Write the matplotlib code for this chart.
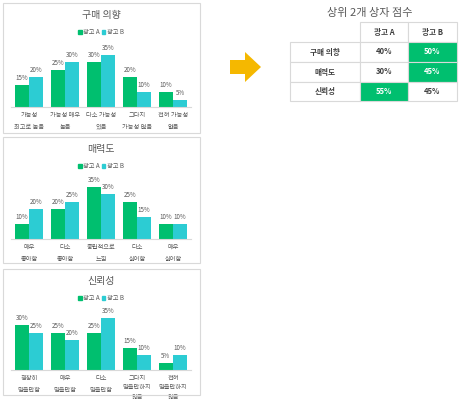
import matplotlib.pyplot as plt
from matplotlib.patches import Rectangle, Polygon, Patch

plt.rcParams["font.family"] = ["Noto Sans CJK KR", "DejaVu Sans"]

GREEN = "#00BF6F"
CYAN = "#2CCCD3"
TEXT = "#595959"
BORDER = "#D9D9D9"

series_names = ["광고 A", "광고 B"]

purchase_title = "구매 의향"
purchase_labels = ["가능성\n최고로 높음", "가능성 매우\n높음", "다소 가능성\n있음",
                   "그다지\n가능성 없음", "전혀 가능성\n없음"]
purchase_a = [15, 25, 30, 20, 10]
purchase_b = [20, 30, 35, 10, 5]

appeal_title = "매력도"
appeal_labels = ["매우\n좋아함", "다소\n좋아함", "중립적으로\n느낌", "다소\n싫어함", "매우\n싫어함"]
appeal_a = [10, 20, 35, 25, 10]
appeal_b = [20, 25, 30, 15, 10]

trust_title = "신뢰성"
trust_labels = ["굉장히\n믿을만함", "매우\n믿을만함", "다소\n믿을만함",
                "그다지\n믿을만하지\n않음", "전혀\n믿을만하지\n않음"]
trust_a = [30, 25, 25, 15, 5]
trust_b = [25, 20, 35, 10, 10]

table_title = "상위 2개 상자 점수"
table_rows = ["구매 의향", "매력도", "신뢰성"]
table_cols = ["광고 A", "광고 B"]
table_a = [40, 30, 55]
table_b = [50, 45, 45]

W, H = 460, 400
fig = plt.figure(figsize=(W / 100, H / 100), dpi=100)


def px_box(x0, y0, x1, y1):
    """Pixel box (y from top) -> figure fraction [left, bottom, width, height]."""
    return [x0 / W, 1 - y1 / H, (x1 - x0) / W, (y1 - y0) / H]


def bar_panel(top, bottom, base, title, labels, a_vals, b_vals):
    fig.patches.append(Rectangle((3 / W, 1 - bottom / H), 197 / W, (bottom - top) / H,
                                 transform=fig.transFigure, fill=False,
                                 edgecolor=BORDER, linewidth=0.8))
    fig.text(101 / W, 1 - (top + 12) / H, title, ha="center", va="center",
             fontsize=7.2, color=TEXT)
    scale = 1.5
    ax = fig.add_axes(px_box(11, base - 40 * scale, 191, base))
    x = range(len(labels))
    bw = 0.4
    ba = ax.bar([i - bw / 2 for i in x], a_vals, width=bw, color=GREEN)
    bb = ax.bar([i + bw / 2 for i in x], b_vals, width=bw, color=CYAN)
    for bars in (ba, bb):
        ax.bar_label(bars, fmt="%d%%", fontsize=4.5, color=TEXT, padding=2)
    ax.set_xlim(-0.5, len(labels) - 0.5)
    ax.set_ylim(0, 40)
    ax.set_xticks(list(x))
    ax.set_xticklabels(labels, fontsize=4.5, color=TEXT, va="top")
    for lbl in ax.get_xticklabels():
        lbl.set_linespacing(1.2 if lbl.get_text().count("\n") > 1 else 1.6)
    ax.tick_params(axis="x", length=0, pad=3)
    ax.set_yticks([])
    for side in ("top", "left", "right"):
        ax.spines[side].set_visible(False)
    ax.spines["bottom"].set_color(BORDER)
    ax.spines["bottom"].set_linewidth(0.8)
    ax.patch.set_alpha(0)
    handles = [Patch(color=GREEN), Patch(color=CYAN)]
    fig.legend(handles, series_names, loc="center",
               bbox_to_anchor=(101 / W, 1 - (top + 29) / H), ncol=2, frameon=False,
               fontsize=4.5, handlelength=0.6, handleheight=0.6, handletextpad=0.2,
               columnspacing=0.3, labelcolor=TEXT)


bar_panel(3, 133, 107, purchase_title, purchase_labels, purchase_a, purchase_b)
bar_panel(137, 263, 239, appeal_title, appeal_labels, appeal_a, appeal_b)
bar_panel(269, 395, 370, trust_title, trust_labels, trust_a, trust_b)

# arrow
arrow_px = [(230, 60), (245, 60), (245, 52), (261, 67), (245, 82), (245, 74), (230, 74)]
fig.patches.append(Polygon([(xp / W, 1 - yp / H) for xp, yp in arrow_px], closed=True,
                           transform=fig.transFigure, facecolor="#F5B800",
                           edgecolor="none"))

# table
fig.text(370 / W, 1 - 13 / H, table_title, ha="center", va="center",
         fontsize=8, color=TEXT)
col_edges = [290, 360, 408, 457]
row_edges = [22, 42, 62, 82, 101]
tax = fig.add_axes([0, 0, 1, 1])
tax.set_xlim(0, W)
tax.set_ylim(H, 0)
tax.axis("off")
for j, name in enumerate(table_cols):
    x0, x1 = col_edges[j + 1], col_edges[j + 2]
    tax.add_patch(Rectangle((x0, row_edges[0]), x1 - x0, row_edges[1] - row_edges[0],
                            facecolor="white", edgecolor=BORDER, linewidth=0.8))
    tax.text((x0 + x1) / 2, (row_edges[0] + row_edges[1]) / 2, name, ha="center",
             va="center", fontsize=5.5, color="#404040", fontweight="bold")
for i, row in enumerate(table_rows):
    y0, y1 = row_edges[i + 1], row_edges[i + 2]
    x0, x1 = col_edges[0], col_edges[1]
    tax.add_patch(Rectangle((x0, y0), x1 - x0, y1 - y0, facecolor="white",
                            edgecolor=BORDER, linewidth=0.8))
    tax.text((x0 + x1) / 2, (y0 + y1) / 2, row, ha="center", va="center",
             fontsize=5.5, color="#404040", fontweight="bold")
    vals = [table_a[i], table_b[i]]
    best = max(range(2), key=lambda k: vals[k])
    for j, v in enumerate(vals):
        cx0, cx1 = col_edges[j + 1], col_edges[j + 2]
        hi = j == best
        tax.add_patch(Rectangle((cx0, y0), cx1 - cx0, y1 - y0,
                                facecolor=GREEN if hi else "white",
                                edgecolor=BORDER, linewidth=0.8))
        tax.text((cx0 + cx1) / 2, (y0 + y1) / 2, f"{v}%", ha="center", va="center",
                 fontsize=5.5, color="white" if hi else "#404040", fontweight="bold")

fig.savefig("out.png", dpi=100)
